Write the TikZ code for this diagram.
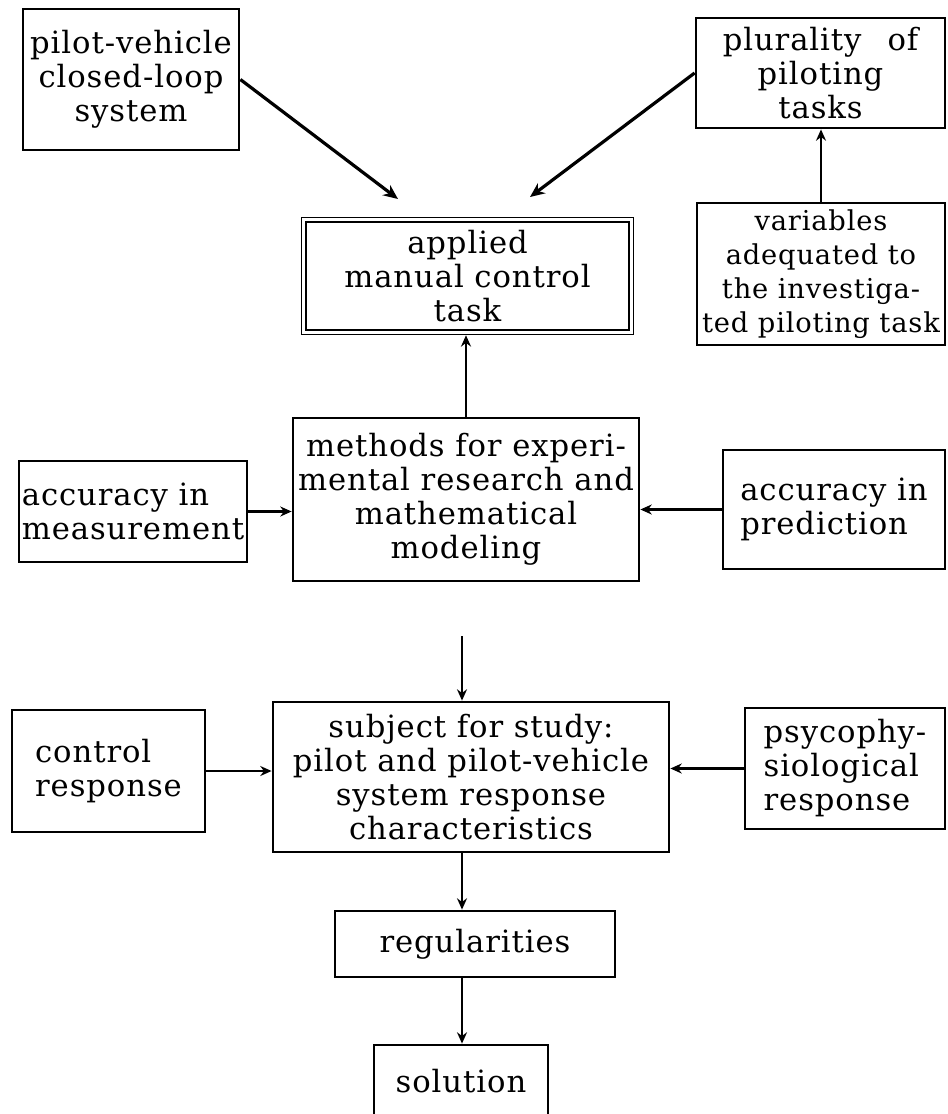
\documentclass[tikz,border=0pt]{standalone}
\usepackage{fontspec}
\setmainfont{DejaVu Serif}[LetterSpace=3]
\usetikzlibrary{arrows.meta}
\begin{document}
\begin{tikzpicture}[x=0.75pt,y=-0.75pt,
  box/.style={draw, line width=2.1pt, inner sep=0pt, align=center,
    font=\fontsize{23}{25.5}\selectfont},
  lbox/.style={box, align=left},
  arr/.style={line width=1.7pt, -{Stealth[length=8.5pt,width=7.5pt]}},
  bigarr/.style={line width=2.4pt, -{Stealth[length=11pt,width=9.5pt]}}]
\clip (0,0) rectangle (947,1114);
\fill[white] (0,0) rectangle (947,1114);

% upper row
\node[box, minimum width=162pt, minimum height=105.75pt] (pilot) at (131,79.5)
  {pilot-vehicle\\closed-loop\\system};
\node[box, minimum width=186.75pt, minimum height=82.5pt] (plur) at (820.5,73)
  {plurality\hspace{0.5em} of\\piloting\\tasks};
\node[box, minimum width=186pt, minimum height=106.5pt,
  font=\fontsize{20.5}{25.5}\selectfont] (var) at (821,274)
  {variables\\adequated to\\the investiga-\\ted piloting task};
\node[box, line width=1.2pt, double, double distance=2pt, outer sep=2.2pt,
  minimum width=245.7pt, minimum height=84.5pt] (app) at (467.5,276)
  {applied\\manual control\\task};

% methods row
\node[box, minimum width=259.5pt, minimum height=122.25pt] (meth) at (466,499.5)
  {methods for experi-\\mental research and\\mathematical\\modeling};
\node[lbox, minimum width=171pt, minimum height=75.75pt] (meas) at (133,511.5)
  {accuracy in\\measurement};
\node[lbox, minimum width=166.5pt, minimum height=89.25pt] (pred) at (834,509.5)
  {accuracy in\\prediction};

% subject row
\node[box, minimum width=297pt, minimum height=112.5pt] (subj) at (471,777)
  {subject for study:\\pilot and pilot-vehicle\\system response\\characteristics};
\node[lbox, minimum width=144.75pt, minimum height=91.5pt] (ctrl) at (108.5,771)
  {control\\response};
\node[lbox, minimum width=150pt, minimum height=90.75pt] (psy) at (845,768.5)
  {psycophy-\\siological\\response};

% results
\node[box, minimum width=210pt, minimum height=49.5pt] (reg) at (475,944)
  {regularities};
\node[box, minimum width=130.5pt, minimum height=54.75pt] (sol) at (461,1081.5)
  {solution};

% free arrow ends
\coordinate (tipL) at (398,199);
\coordinate (tipR) at (530,197);
\coordinate (feed) at (462,636);

% connectors
\draw[bigarr] (pilot.east) -- (tipL);
\draw[bigarr] (plur.west) -- (tipR);
\draw[arr] (var.north) -- (var.north |- plur.south);
\draw[arr] (meth.north) -- (meth.north |- app.south);
\draw[arr] (meas.east) -- (meas.east -| meth.west);
\draw[arr] (pred.west) -- (pred.west -| meth.east);
\draw[arr] (feed) -- (feed |- subj.north);
\draw[arr] (ctrl.east) -- (ctrl.east -| subj.west);
\draw[arr] (psy.west) -- (psy.west -| subj.east);
\draw[arr] (subj.south -| feed) -- (reg.north -| feed);
\draw[arr] (reg.south -| feed) -- (feed |- sol.north);
\end{tikzpicture}
\end{document}
